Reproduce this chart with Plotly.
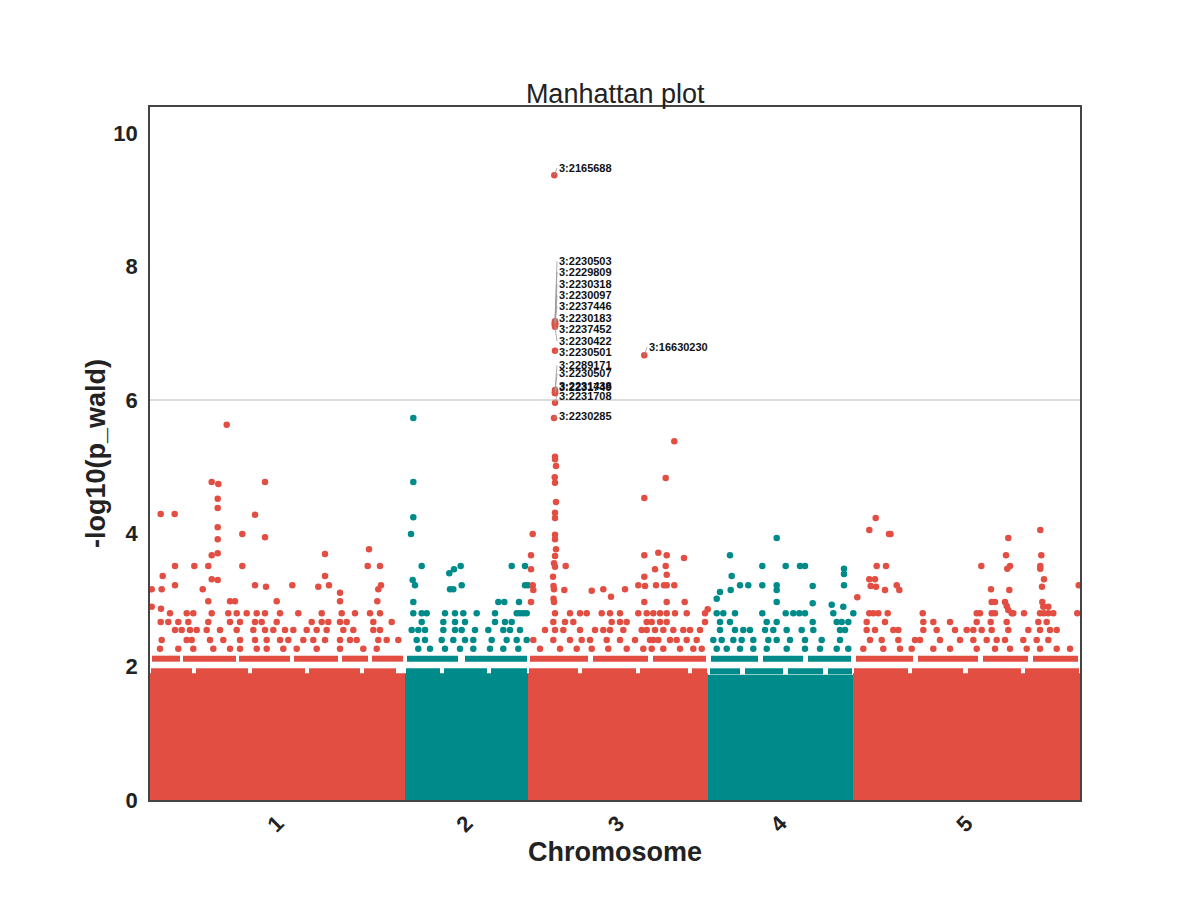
import plotly.graph_objects as go

# Manhattan plot: -log10(p_wald) by chromosome
# positions are in plot units within each chromosome (SNP-index scale)

chrom_names = ["1", "2", "3", "4", "5"]
chrom_len = [25.5, 12.3, 18.0, 14.5, 22.7]
colors = ["#E24E42", "#008B8B", "#E24E42", "#008B8B", "#E24E42"]

# height of the dense (nearly solid) mass of points per chromosome
band_top = [1.90, 1.90, 1.90, 1.88, 1.90]

# nearly continuous rows of points in the mass, (start, end) within chromosome
row_193 = [
    [(0.1, 4.2), (4.6, 9.8), (10.2, 15.5), (15.9, 21.0), (21.4, 24.6)],
    [(0.1, 3.5), (3.9, 8.2), (8.6, 12.2)],
    [(0.1, 5.0), (5.4, 10.8), (11.2, 16.0), (16.4, 17.9)],
    [(0.2, 3.2), (3.7, 7.5), (8.0, 11.5), (12.0, 14.4)],
    [(0.1, 5.5), (5.9, 11.0), (11.5, 16.8), (17.2, 22.6)],
]
row_212 = [
    [(0.2, 3.0), (3.3, 8.6), (8.9, 14.0), (14.4, 18.8), (19.2, 21.8), (22.2, 25.3)],
    [(0.2, 5.3), (6.0, 12.2)],
    [(0.2, 6.0), (6.5, 12.0), (12.5, 17.8)],
    [(0.3, 5.0), (5.5, 9.5), (10.0, 14.3)],
    [(0.3, 6.0), (6.5, 12.5), (13.0, 17.5), (18.0, 22.5)],
]

chr1_pts = [
    (7.67, 5.63), (1.07, 4.29), (2.47, 4.29), (6.17, 4.77), (6.83, 4.74), (6.77, 4.52),
    (6.77, 4.38), (11.5, 4.77), (10.5, 4.28), (9.23, 3.99), (11.5, 3.94), (6.77, 4.09),
    (6.77, 3.91), (6.17, 3.67), (6.77, 3.70), (1.27, 3.36), (0.17, 3.16), (1.17, 3.16),
    (2.5, 3.51), (2.5, 3.22), (4.43, 3.51), (5.83, 3.51), (6.17, 3.31), (6.77, 3.30),
    (5.27, 3.16), (9.23, 3.51), (10.5, 3.22), (11.6, 3.20), (14.23, 3.22), (17.5, 3.69),
    (17.5, 3.36), (16.83, 3.20), (17.9, 3.22), (19.0, 3.11), (21.9, 3.76), (21.77, 3.51),
    (23.0, 3.51), (23.1, 3.22), (22.83, 3.16), (0.17, 2.90), (1.1, 2.87),
    (5.83, 2.98), (8.0, 2.98), (8.5, 2.98), (12.67, 2.98), (19.0, 2.98), (22.73, 2.98),
    (2.0, 2.80), (3.67, 2.80), (4.33, 2.80), (6.17, 2.80), (7.83, 2.80), (8.67, 2.80),
    (9.67, 2.80), (10.67, 2.80), (11.5, 2.80), (13.0, 2.80), (14.83, 2.80), (17.17, 2.80),
    (19.17, 2.80), (20.5, 2.80), (22.0, 2.80), (23.0, 2.80),
    (1.07, 2.67), (1.83, 2.67), (2.83, 2.67), (3.83, 2.67), (5.83, 2.67), (8.0, 2.67),
    (9.0, 2.67), (10.5, 2.67), (11.17, 2.67), (12.67, 2.67), (16.17, 2.67), (17.17, 2.67),
    (17.83, 2.67), (19.0, 2.67), (19.67, 2.67), (22.33, 2.67), (24.17, 2.67),
    (2.5, 2.55), (3.17, 2.55), (4.0, 2.55), (4.67, 2.55), (5.67, 2.55), (7.0, 2.55),
    (8.67, 2.55), (10.33, 2.55), (11.5, 2.55), (12.33, 2.55), (13.5, 2.55), (14.33, 2.55),
    (15.67, 2.55), (16.67, 2.55), (17.67, 2.55), (19.33, 2.55), (20.33, 2.55), (22.33, 2.55),
    (23.0, 2.55),
    (1.17, 2.40), (3.67, 2.40), (4.17, 2.40), (6.0, 2.40), (7.33, 2.40), (9.0, 2.40),
    (10.5, 2.40), (11.67, 2.40), (13.0, 2.40), (13.83, 2.40), (15.33, 2.40), (16.33, 2.40),
    (17.5, 2.40), (19.0, 2.40), (20.0, 2.40), (20.67, 2.40), (22.83, 2.40), (23.67, 2.40),
    (24.83, 2.40),
    (1.0, 2.27), (2.83, 2.27), (4.33, 2.27), (6.33, 2.27), (8.0, 2.27), (9.0, 2.27),
    (10.67, 2.27), (11.67, 2.27), (13.33, 2.27), (14.67, 2.27), (16.67, 2.27), (19.0, 2.27),
    (21.33, 2.27), (22.67, 2.27),
]

chr2_pts = [
    (0.83, 5.73), (0.83, 4.77), (0.83, 4.24), (0.6, 3.99), (1.67, 3.51), (0.77, 3.30),
    (1.0, 3.22), (4.9, 3.46), (5.57, 3.51), (4.43, 3.40), (4.5, 3.16), (4.83, 3.16),
    (5.67, 3.22), (10.67, 3.51), (12.0, 3.51), (12.0, 3.22), (12.3, 3.22),
    (0.83, 2.97), (9.33, 2.97), (9.93, 2.97), (11.4, 2.97),
    (0.83, 2.80), (1.67, 2.80), (2.17, 2.80), (4.0, 2.80), (5.0, 2.80), (5.83, 2.80),
    (7.17, 2.80), (9.0, 2.80), (11.17, 2.80), (11.5, 2.80), (11.83, 2.80), (12.17, 2.80),
    (1.67, 2.67), (3.83, 2.67), (5.0, 2.67), (6.0, 2.67), (9.0, 2.67), (10.0, 2.67),
    (10.67, 2.67),
    (0.67, 2.55), (1.33, 2.55), (2.0, 2.55), (3.83, 2.55), (5.0, 2.55), (5.67, 2.55),
    (7.0, 2.55), (8.33, 2.55), (9.83, 2.55), (10.5, 2.55), (11.5, 2.55),
    (1.17, 2.40), (2.0, 2.40), (3.67, 2.40), (4.83, 2.40), (6.0, 2.40), (6.83, 2.40),
    (8.67, 2.40), (10.17, 2.40), (11.17, 2.40), (12.17, 2.40),
    (1.33, 2.27), (2.5, 2.27), (4.0, 2.27), (5.5, 2.27), (6.83, 2.27), (8.5, 2.27),
    (9.83, 2.27), (11.33, 2.27),
]

chr3_pts = [
    (14.63, 5.38), (13.77, 4.83), (11.63, 4.53), (2.7, 5.15), (2.7, 5.11), (2.8, 5.01),
    (2.67, 4.84), (2.7, 4.76), (2.8, 4.47), (2.7, 4.31), (2.7, 4.23), (2.7, 3.98),
    (2.7, 3.91), (2.8, 3.76), (2.7, 3.66), (2.6, 3.55), (2.7, 3.50), (2.5, 3.35),
    (2.55, 3.21), (2.6, 3.16), (2.55, 3.02), (2.6, 2.97), (0.47, 3.99), (0.3, 3.67),
    (0.3, 3.46), (0.47, 3.22), (0.53, 3.15), (0.3, 2.97), (3.77, 3.51), (3.63, 3.15),
    (6.37, 3.14), (7.53, 3.16), (8.3, 3.05), (9.7, 3.16), (11.63, 3.67), (13.03, 3.71),
    (13.87, 3.67), (15.6, 3.63), (12.7, 3.46), (13.77, 3.51), (13.87, 3.38), (11.63, 3.35),
    (11.03, 3.22), (11.7, 3.21), (12.8, 3.22), (13.6, 3.22), (13.87, 3.22), (14.63, 3.22),
    (11.63, 2.97), (13.87, 2.97), (15.67, 2.97), (17.97, 2.86), (17.7, 2.80),
    (2.7, 2.80), (4.2, 2.80), (5.2, 2.80), (5.87, 2.80), (7.37, 2.80), (8.2, 2.80),
    (9.2, 2.80), (11.03, 2.80), (11.87, 2.80), (12.53, 2.80), (13.2, 2.80), (13.87, 2.80),
    (14.7, 2.80), (15.87, 2.80),
    (2.53, 2.67), (3.7, 2.67), (4.53, 2.67), (8.37, 2.67), (9.2, 2.67), (9.87, 2.67),
    (11.87, 2.67), (12.37, 2.67), (13.2, 2.67), (13.87, 2.67), (17.7, 2.67),
    (1.7, 2.55), (2.7, 2.55), (3.53, 2.55), (5.2, 2.55), (6.7, 2.55), (7.53, 2.55),
    (8.2, 2.55), (9.53, 2.55), (11.37, 2.55), (11.87, 2.55), (12.7, 2.55), (13.53, 2.55),
    (14.53, 2.55), (15.53, 2.55), (16.2, 2.55), (17.2, 2.55),
    (0.53, 2.40), (2.53, 2.40), (4.2, 2.40), (5.37, 2.40), (6.2, 2.40), (7.87, 2.40),
    (9.2, 2.40), (10.7, 2.40), (12.2, 2.40), (12.53, 2.40), (13.03, 2.40), (14.2, 2.40),
    (14.87, 2.40), (15.87, 2.40), (16.87, 2.40),
    (1.2, 2.27), (3.2, 2.27), (4.87, 2.27), (6.37, 2.27), (8.03, 2.27), (9.87, 2.27),
    (11.53, 2.27), (12.37, 2.27), (13.53, 2.27), (15.2, 2.27), (16.53, 2.27), (17.37, 2.27),
]

chr4_pts = [
    (6.87, 3.93), (2.2, 3.67), (5.43, 3.51), (7.77, 3.51), (9.2, 3.51), (9.7, 3.51),
    (13.6, 3.47), (13.6, 3.39), (2.37, 3.36), (2.27, 3.15), (3.2, 3.22), (4.03, 3.22),
    (5.43, 3.22), (6.87, 3.22), (6.87, 3.15), (10.47, 3.21), (13.6, 3.22), (1.2, 3.12),
    (0.87, 3.02), (6.87, 2.97), (10.47, 2.95), (12.37, 2.93), (13.53, 2.90),
    (0.87, 2.80), (1.53, 2.80), (2.7, 2.80), (5.43, 2.80), (7.77, 2.80), (8.53, 2.80),
    (9.13, 2.80), (9.7, 2.80), (12.53, 2.80), (14.53, 2.80),
    (1.2, 2.67), (2.2, 2.67), (5.87, 2.67), (6.87, 2.67), (10.47, 2.67), (12.87, 2.67),
    (13.37, 2.67), (14.03, 2.67),
    (1.2, 2.55), (2.7, 2.55), (3.53, 2.55), (4.2, 2.55), (5.7, 2.55), (6.53, 2.55),
    (7.87, 2.55), (9.37, 2.55), (10.53, 2.55), (13.2, 2.55), (13.7, 2.55),
    (0.53, 2.40), (1.37, 2.40), (2.53, 2.40), (3.37, 2.40), (4.53, 2.40), (6.03, 2.40),
    (6.87, 2.40), (8.2, 2.40), (9.7, 2.40), (11.37, 2.40), (13.2, 2.40),
    (0.87, 2.27), (1.87, 2.27), (3.2, 2.27), (4.53, 2.27), (5.87, 2.27), (7.87, 2.27),
    (9.7, 2.27), (11.2, 2.27), (12.87, 2.27), (14.03, 2.27),
]

chr5_pts = [
    (2.27, 4.23), (1.63, 4.05), (3.6, 3.99), (3.75, 3.99), (2.37, 3.51), (3.3, 3.51),
    (1.63, 3.31), (2.2, 3.31), (1.77, 3.21), (2.3, 3.20), (3.2, 3.15), (4.37, 3.22),
    (4.63, 3.15), (0.43, 3.04), (12.83, 3.51), (15.53, 3.93), (15.3, 3.67), (15.7, 3.51),
    (15.43, 3.47), (18.73, 4.05), (18.83, 3.67), (18.73, 3.51), (18.73, 3.47), (19.1, 3.31),
    (18.9, 3.20), (13.8, 3.16), (15.63, 3.15), (22.57, 3.22),
    (13.87, 2.97), (14.2, 2.97), (15.2, 2.97), (15.37, 2.91), (15.53, 2.85), (15.87, 2.80),
    (18.93, 2.97), (19.03, 2.90), (19.53, 2.90),
    (1.63, 2.80), (2.03, 2.80), (2.53, 2.80), (3.47, 2.80), (6.97, 2.80), (12.37, 2.80),
    (12.7, 2.80), (13.87, 2.80), (14.2, 2.80), (16.03, 2.80), (17.1, 2.80), (18.7, 2.80),
    (19.1, 2.80), (19.53, 2.80), (20.03, 2.80), (22.43, 2.80),
    (1.37, 2.67), (3.2, 2.67), (7.03, 2.67), (8.03, 2.67), (9.7, 2.67), (12.37, 2.67),
    (13.77, 2.67), (15.37, 2.67), (18.53, 2.67), (19.37, 2.67),
    (1.37, 2.55), (2.2, 2.55), (4.03, 2.55), (4.53, 2.55), (7.03, 2.55), (8.37, 2.55),
    (10.2, 2.55), (11.37, 2.55), (12.03, 2.55), (12.87, 2.55), (13.87, 2.55), (15.53, 2.55),
    (17.53, 2.55), (18.7, 2.55), (19.7, 2.55), (20.37, 2.55),
    (1.7, 2.40), (2.87, 2.40), (4.53, 2.40), (6.2, 2.40), (6.7, 2.40), (8.7, 2.40),
    (10.7, 2.40), (12.03, 2.40), (13.37, 2.40), (14.37, 2.40), (15.2, 2.40), (17.03, 2.40),
    (18.37, 2.40), (19.53, 2.40),
    (1.03, 2.27), (3.03, 2.27), (4.7, 2.27), (5.87, 2.27), (8.03, 2.27), (9.7, 2.27),
    (12.37, 2.27), (14.2, 2.27), (15.7, 2.27), (17.37, 2.27), (18.7, 2.27), (20.37, 2.27),
    (21.7, 2.27),
]

# labelled SNPs (all on chromosome 3): id, position, -log10 p, label position
snp_ids = ["3:2165688", "3:2230503", "3:2229809", "3:2230318", "3:2230097", "3:2237446",
           "3:2230183", "3:2237452", "3:2230422", "3:2230501", "3:2289171", "3:2230507",
           "3:2231438", "3:2231749", "3:2231708", "3:2230285", "3:16630230"]
snp_pos = [2.63, 2.7, 2.7, 2.7, 2.7, 2.7, 2.7, 2.7, 2.7, 2.7, 2.7, 2.7, 2.7, 2.7, 2.7, 2.6, 11.63]
snp_logp = [9.37, 7.18, 7.17, 7.16, 7.15, 7.14, 7.13, 7.12, 7.10, 6.74, 6.15, 6.12, 6.11,
            6.10, 5.96, 5.73, 6.67]
label_x = [2.9, 2.9, 2.9, 2.9, 2.9, 2.9, 2.9, 2.9, 2.9, 2.9, 2.9, 2.9, 2.9, 2.9, 2.9, 2.9, 11.9]
label_y = [9.48, 8.08, 7.92, 7.74, 7.57, 7.41, 7.23, 7.06, 6.88, 6.72, 6.52, 6.40, 6.21,
           6.19, 6.06, 5.76, 6.79]

all_pts = [chr1_pts, chr2_pts, chr3_pts, chr4_pts, chr5_pts]
threshold = 6

offsets = []
acc = 0
for L in chrom_len:
    offsets.append(acc)
    acc += L
total_len = acc

fig = go.Figure()

for i, name in enumerate(chrom_names):
    off = offsets[i]
    c = colors[i]
    # dense mass of points near zero
    fig.add_trace(go.Scatter(
        x=[off, off, off + chrom_len[i], off + chrom_len[i]],
        y=[0, band_top[i], band_top[i], 0],
        fill='toself', fillcolor=c, mode='none', hoverinfo='skip', showlegend=False
    ))
    # packed rows of points
    for level, rows in [(1.93, row_193[i]), (2.12, row_212[i])]:
        xs, ys = [], []
        for s, e in rows:
            xs += [off + s, off + e, None]
            ys += [level, level, None]
        fig.add_trace(go.Scatter(x=xs, y=ys, mode='lines',
                                 line=dict(color=c, width=6),
                                 hoverinfo='skip', showlegend=False))
    pts = all_pts[i]
    fig.add_trace(go.Scatter(
        x=[off + p for p, v in pts], y=[v for p, v in pts],
        mode='markers', marker=dict(color=c, size=6.5, line=dict(width=0)),
        name='chr' + name, showlegend=False
    ))

off3 = offsets[2]
fig.add_trace(go.Scatter(
    x=[off3 + p for p in snp_pos], y=snp_logp, mode='markers',
    marker=dict(color=colors[2], size=6.5, line=dict(width=0)),
    text=snp_ids, showlegend=False
))

for sid, p, v, lx, ly in zip(snp_ids, snp_pos, snp_logp, label_x, label_y):
    fig.add_annotation(
        x=off3 + p, y=v, ax=off3 + lx, ay=ly, axref='x', ayref='y',
        text=sid, showarrow=True, arrowhead=0, arrowwidth=0.8, arrowcolor='#999999',
        xanchor='left', yanchor='middle',
        font=dict(family='Liberation Sans', size=11, color='#111111', weight='bold')
    )

fig.add_shape(type='line', xref='paper', x0=0, x1=1, yref='y', y0=threshold, y1=threshold,
              line=dict(color='#bbbbbb', width=1))

mids = [offsets[i] + chrom_len[i] / 2 for i in range(len(chrom_len))]

fig.update_layout(
    width=1200, height=900,
    paper_bgcolor='white', plot_bgcolor='white',
    margin=dict(l=142, r=128, t=99, b=108),
    title=dict(text='Manhattan plot', x=0.506, xanchor='center', y=0.905, yanchor='middle',
               font=dict(family='Liberation Sans', size=27, color='#222222')),
    font=dict(family='Liberation Sans', color='#222222'),
    xaxis=dict(
        range=[0, total_len], tickvals=mids, ticktext=chrom_names, tickangle=-45,
        showgrid=False, zeroline=False, showline=True, mirror=True,
        linecolor='#444444', linewidth=1.5, ticks='',
        tickfont=dict(size=22, weight='bold', color='#222222'),
        title=dict(text='Chromosome', standoff=6,
                   font=dict(size=27, weight='bold', color='#222222')),
    ),
    yaxis=dict(
        range=[0, 10.395], tickvals=[0, 2, 4, 6, 8, 10],
        showgrid=False, zeroline=False, showline=True, mirror=True,
        linecolor='#444444', linewidth=1.5, ticks='', ticklabelstandoff=6,
        tickfont=dict(size=22, weight='bold', color='#222222'),
        title=dict(text='-log10(p_wald)', standoff=0,
                   font=dict(size=27, weight='bold', color='#222222')),
    ),
)

fig.write_html("out.html")
